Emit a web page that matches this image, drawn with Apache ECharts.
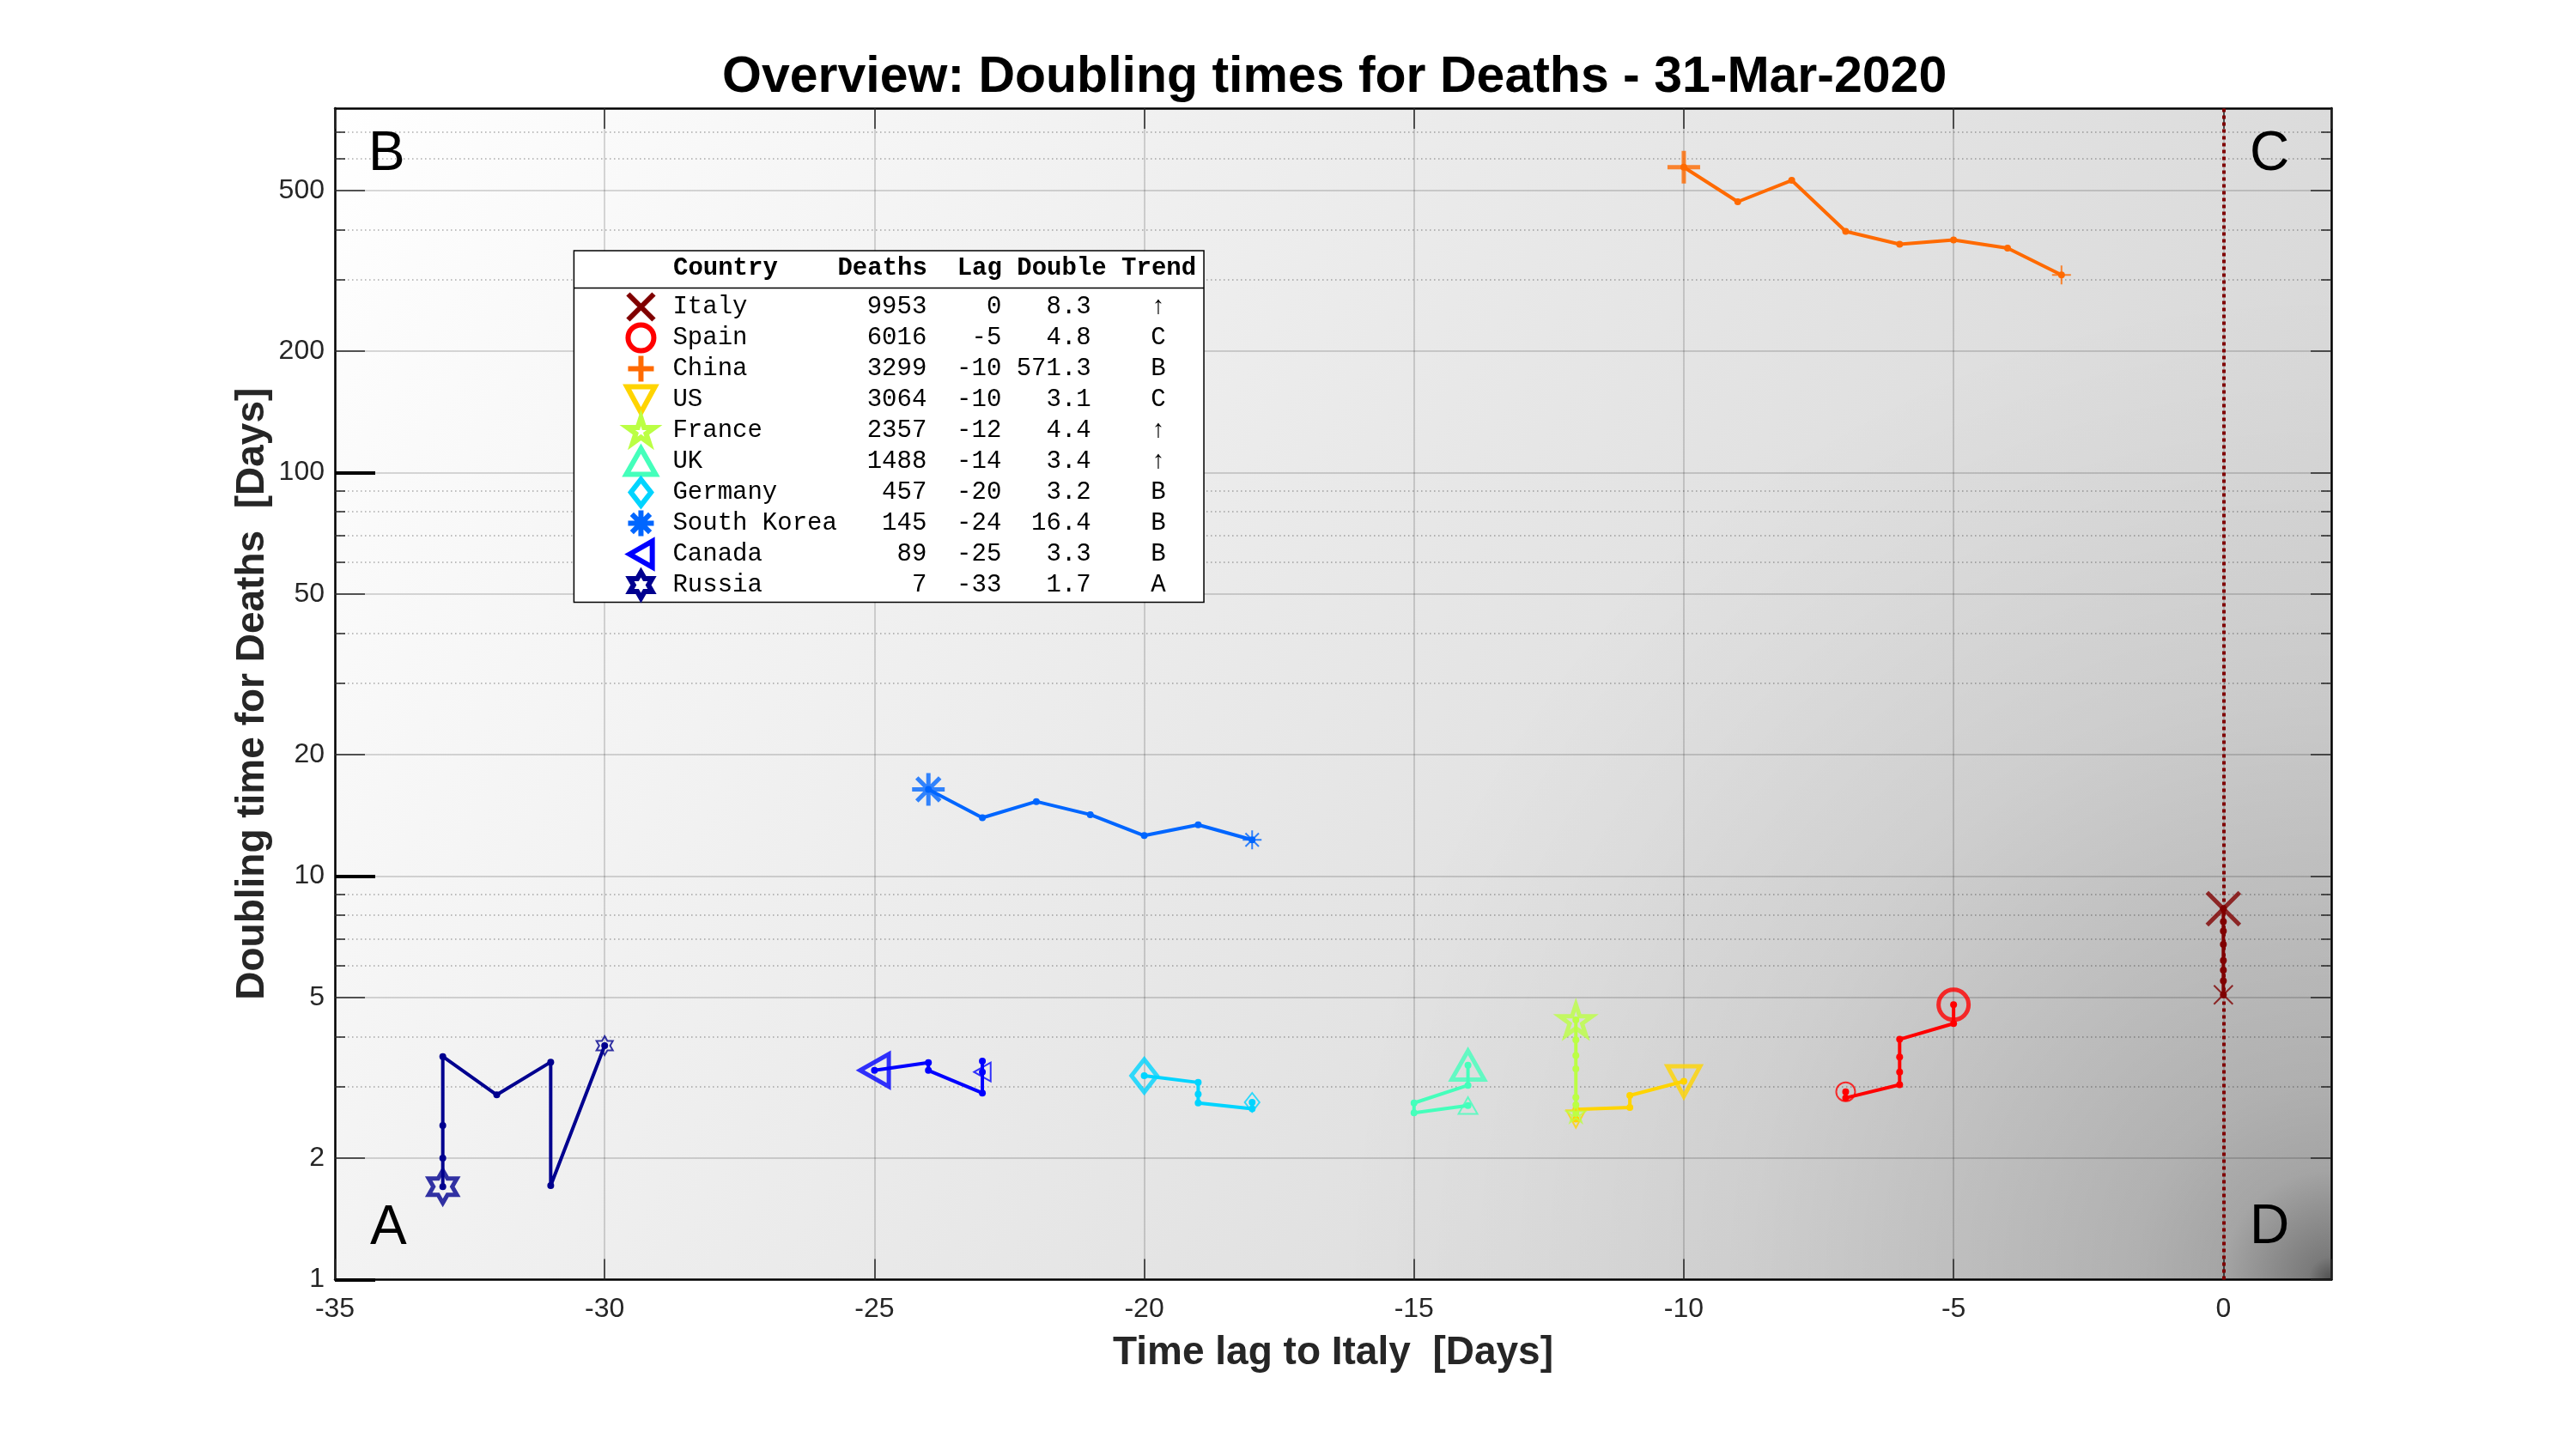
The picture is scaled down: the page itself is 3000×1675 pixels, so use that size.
<!DOCTYPE html>
<html>
<head>
<meta charset="utf-8">
<script src="https://cdn.jsdelivr.net/npm/echarts@6/dist/echarts.min.js"></script>
<style>
html,body{margin:0;padding:0;background:#ffffff;}
#chart{width:3000px;height:1675px;}
</style>
</head>
<body>
<div id="chart"></div>
<script>
// ---------------- DATA ----------------
const countries = ['Italy', 'Spain', 'China', 'US', 'France', 'UK', 'Germany', 'South Korea', 'Canada', 'Russia'];
const deaths = [9953, 6016, 3299, 3064, 2357, 1488, 457, 145, 89, 7];
const lags = [0, -5, -10, -10, -12, -14, -20, -24, -25, -33];
const doubles = [8.3, 4.8, 571.3, 3.1, 4.4, 3.4, 3.2, 16.4, 3.3, 1.7];
const trends = ['\u2191', 'C', 'B', 'C', '\u2191', '\u2191', 'B', 'B', 'B', 'A'];

// trajectories [lag, doubling time], oldest first, current last
const trajItaly = [[0, 5.08], [0, 5.5], [0, 5.85], [0, 6.18], [0, 6.77], [0, 7.31], [0, 7.71], [0, 8.3]];
const trajSpain = [[-7, 2.92], [-7, 2.82], [-6, 3.04], [-6, 3.27], [-6, 3.56], [-6, 3.94], [-5, 4.31], [-5, 4.8]];
const trajChina = [[-3, 309], [-4, 360], [-5, 377], [-6, 368], [-7, 396], [-8, 530], [-9, 469], [-10, 571.3]];
const trajUS = [[-12, 2.5], [-12, 2.64], [-11, 2.67], [-11, 2.86], [-10, 3.1]];
const trajFrance = [[-12, 2.58], [-12, 2.71], [-12, 2.83], [-12, 3.33], [-12, 3.59], [-12, 3.93], [-12, 4.4]];
const trajUK = [[-14, 2.7], [-15, 2.59], [-15, 2.74], [-14, 3.03], [-14, 3.4]];
const trajGermany = [[-18, 2.75], [-18, 2.65], [-19, 2.74], [-19, 2.88], [-19, 3.08], [-20, 3.2]];
const trajSouthKorea = [[-18, 12.3], [-19, 13.4], [-20, 12.6], [-21, 14.2], [-22, 15.3], [-23, 13.95], [-24, 16.4]];
const trajCanada = [[-23, 3.27], [-23, 3.48], [-23, 2.9], [-24, 3.3], [-24, 3.45], [-25, 3.3]];
const trajRussia = [[-30, 3.8], [-31, 1.71], [-31, 3.46], [-32, 2.87], [-33, 3.57], [-33, 2.41], [-33, 2.0], [-33, 1.7]];
const trajectories = [trajItaly, trajSpain, trajChina, trajUS, trajFrance, trajUK, trajGermany, trajSouthKorea, trajCanada, trajRussia];

// axis ticks
const xTicks = [-35, -30, -25, -20, -15, -10, -5, 0];
const yMajorTicks = [1, 2, 5, 10, 20, 50, 100, 200, 500];
const yMinorTicks = [3, 4, 6, 7, 8, 9, 30, 40, 60, 70, 80, 90, 300, 400, 600, 700];
const yDecadeTicks = [1, 10, 100];

// ---------------- STYLE ----------------
const colors = ['#800000', '#FF0000', '#FF6A00', '#FFD400', '#BBFF44', '#44FFBB', '#00D4FF', '#0066FF', '#0000FF', '#00008F'];
const markerIcons = [
  'path://M0 0L10 10M10 0L0 10',
  'circle',
  'path://M5 0L5 10M0 5L10 5',
  'path://M0 0L10 0L5 9.2Z',
  'path://M5 0L6.123 3.455L9.755 3.455L6.816 5.59L7.939 9.045L5 6.91L2.061 9.045L3.184 5.59L0.245 3.455L3.877 3.455Z',
  'path://M5 0L10 8.8L0 8.8Z',
  'path://M3.9 0L7.8 5L3.9 10L0 5Z',
  'path://M5 0L5 10M0 5L10 5M1.46 1.46L8.54 8.54M8.54 1.46L1.46 8.54',
  'path://M0 5L8.8 0L8.8 10Z',
  'path://M5 0L6.443 2.5L9.33 2.5L7.887 5L9.33 7.5L6.443 7.5L5 10L3.557 7.5L0.67 7.5L2.113 5L0.67 2.5L3.557 2.5Z'
];
const SANS = "'Liberation Sans', Arial, Helvetica, sans-serif";
const MONO = "'Liberation Mono', 'DejaVu Sans Mono', monospace";
const TXT = '#262626';

// plot area in px
const G = { left: 390, top: 126, right: 2715, bottom: 1490.5 };
const GW = G.right - G.left, GH = G.bottom - G.top;

// legend rows (monospace table)
const rowText = {};
countries.forEach((c, i) => {
  rowText[c] = c.padEnd(11) + String(deaths[i]).padStart(6) + String(lags[i]).padStart(5) +
    doubles[i].toFixed(1).padStart(6) + '    ' + trends[i] + '  ';
});

// legend box geometry (for the header separator)
const LEG = { left: 668.4, top: 292, pad: [47.5, 9.5, 2, 58], itemWidth: 64, iconInset: 12 };
const measureCtx = document.createElement('canvas').getContext('2d');
measureCtx.font = "29px 'Liberation Mono', 'DejaVu Sans Mono', monospace";
let rowWidth = 0;
countries.forEach(c => { rowWidth = Math.max(rowWidth, measureCtx.measureText(rowText[c]).width); });
const legendRight = LEG.left + LEG.pad[3] + LEG.itemWidth + 5 + rowWidth + LEG.pad[1] - LEG.iconInset;

const series = [];
countries.forEach((c, i) => {
  const traj = trajectories[i];
  const line = {
    name: c, type: 'line', data: traj, xAxisIndex: 0, yAxisIndex: 0,
    symbol: 'circle', symbolSize: 8, showSymbol: true,
    itemStyle: { color: colors[i], borderWidth: 0 },
    lineStyle: { color: colors[i], width: 4 },
    emphasis: { disabled: true }, z: 3, animation: false
  };
  if (i === 0) {
    line.markLine = {
      silent: true, symbol: ['none', 'none'], label: { show: false },
      lineStyle: { color: colors[0], width: 4, type: [4, 4], opacity: 1 },
      emphasis: { disabled: true },
      data: [{ xAxis: lags[0] }], animation: false
    };
  }
  series.push(line);
  series.push({
    name: c + ' start', type: 'scatter', data: [traj[0]],
    symbol: markerIcons[i], symbolSize: 22, symbolKeepAspect: true,
    itemStyle: { color: 'rgba(0,0,0,0)', borderColor: colors[i], borderWidth: 2 },
    emphasis: { disabled: true }, z: 4, animation: false
  });
  series.push({
    name: c + ' now', type: 'scatter', data: [traj[traj.length - 1]],
    symbol: markerIcons[i], symbolSize: i === 1 ? 35 : 38, symbolKeepAspect: true,
    itemStyle: { color: 'rgba(0,0,0,0)', borderColor: colors[i], borderWidth: 5 },
    emphasis: { disabled: true }, z: 5, animation: false
  });
});

const logBase = { type: 'log', logBase: 10, min: 1, max: 800, gridIndex: 0 };
const hidden = { show: false };
const noLine = { show: false, onZero: false };
const borderLine = { show: true, onZero: false, lineStyle: { color: '#000', width: 2.5 } };

const option = {
  animation: false,
  backgroundColor: '#ffffff',
  title: {
    text: 'Overview: Doubling times for Deaths - 31-Mar-2020',
    left: 841, top: 61, padding: 0,
    textStyle: { fontFamily: SANS, fontSize: 59, fontWeight: 'bold', color: '#000', lineHeight: 59 }
  },
  grid: { left: G.left, top: G.top, width: GW, height: GH, show: false, containLabel: false, outerBoundsMode: 'none' },
  xAxis: [
    {
      type: 'value', min: -35, max: 2, interval: 5, position: 'bottom', gridIndex: 0,
      name: 'Time lag to Italy  [Days]', nameLocation: 'middle', nameGap: 63, nameMoveOverlap: false,
      nameTextStyle: { fontFamily: SANS, fontSize: 46, fontWeight: 'bold', color: TXT, lineHeight: 46 },
      axisLine: borderLine,
      axisTick: { show: true, inside: true, length: 24, lineStyle: { color: TXT, width: 1.5 } },
      axisLabel: {
        show: true, margin: 19, fontFamily: SANS, fontSize: 32, color: TXT, lineHeight: 32,
        showMinLabel: true, showMaxLabel: true,
        formatter: v => (xTicks.indexOf(v) >= 0 ? String(v) : '')
      },
      splitLine: { show: true, lineStyle: { color: 'rgba(0,0,0,0.15)', width: 2 } }
    },
    {
      type: 'value', min: -35, max: 2, interval: 5, position: 'top', gridIndex: 0,
      axisLine: borderLine,
      axisTick: { show: true, inside: true, length: 24, lineStyle: { color: TXT, width: 1.5 } },
      axisLabel: hidden, splitLine: hidden
    }
  ],
  yAxis: [
    Object.assign({}, logBase, {
      position: 'left',
      name: 'Doubling time for Deaths  [Days]', nameLocation: 'middle', nameGap: 73, nameRotate: 90, nameMoveOverlap: false,
      nameTextStyle: { fontFamily: SANS, fontSize: 46, fontWeight: 'bold', color: TXT, lineHeight: 46 },
      axisLine: borderLine,
      axisTick: { show: true, inside: true, length: 35, customValues: yMajorTicks, lineStyle: { color: TXT, width: 1.5 } },
      axisLabel: { show: true, margin: 12, customValues: yMajorTicks, fontFamily: SANS, fontSize: 32, color: TXT },
      splitLine: { show: true, lineStyle: { color: 'rgba(0,0,0,0.15)', width: 2 } }
    }),
    Object.assign({}, logBase, {
      position: 'left',
      axisLine: noLine, axisLabel: { show: false, customValues: yMinorTicks },
      axisTick: { show: true, inside: true, length: 12, customValues: yMinorTicks, lineStyle: { color: TXT, width: 1.5 } },
      splitLine: { show: true, lineStyle: { color: 'rgba(0,0,0,0.32)', width: 1.5, type: [1.5, 3.5] } }
    }),
    Object.assign({}, logBase, {
      position: 'right',
      axisLine: borderLine,
      axisLabel: { show: false, customValues: yMajorTicks },
      axisTick: { show: true, inside: true, length: 24, customValues: yMajorTicks, lineStyle: { color: TXT, width: 1.5 } },
      splitLine: hidden
    }),
    Object.assign({}, logBase, {
      position: 'right',
      axisLine: noLine, axisLabel: { show: false, customValues: yMinorTicks },
      axisTick: { show: true, inside: true, length: 12, customValues: yMinorTicks, lineStyle: { color: TXT, width: 1.5 } },
      splitLine: hidden
    }),
    Object.assign({}, logBase, {
      position: 'left',
      axisLine: noLine, axisLabel: { show: false, customValues: yDecadeTicks },
      axisTick: { show: true, inside: true, length: 47, customValues: yDecadeTicks, lineStyle: { color: '#000', width: 4 } },
      splitLine: hidden
    })
  ],
  legend: {
    show: true, orient: 'vertical', left: LEG.left, top: LEG.top,
    padding: LEG.pad,
    itemWidth: LEG.itemWidth, itemHeight: 30, itemGap: 0,
    backgroundColor: '#ffffff', borderColor: '#000', borderWidth: 1.5, borderRadius: 0,
    selectedMode: false, symbolKeepAspect: true,
    textStyle: { fontFamily: MONO, fontSize: 29, color: '#000', lineHeight: 35 },
    formatter: name => rowText[name],
    data: countries.map((c, i) => ({
      name: c, icon: markerIcons[i],
      itemStyle: { color: 'rgba(0,0,0,0)', borderColor: colors[i], borderWidth: 6 }
    }))
  },
  graphic: [
    {
      type: 'rect', x: G.left, y: G.top, silent: true, z: -10,
      shape: { x: 0, y: 0, width: GW, height: GH },
      style: {
        fill: new echarts.graphic.LinearGradient(0, 0, 1, 1, [
          { offset: 0, color: '#ffffff' }, { offset: 1, color: '#cfcfcf' }
        ])
      }
    },
    {
      type: 'rect', x: G.left, y: G.top, silent: true, z: -9,
      shape: { x: 0, y: 0, width: GW, height: GH },
      style: {
        fill: new echarts.graphic.RadialGradient(1, 1, 0.85, [
          { offset: 0, color: 'rgba(0,0,0,0.62)' },
          { offset: 0.023, color: 'rgba(0,0,0,0.41)' },
          { offset: 0.11, color: 'rgba(0,0,0,0.21)' },
          { offset: 0.2, color: 'rgba(0,0,0,0.16)' },
          { offset: 0.41, color: 'rgba(0,0,0,0.10)' },
          { offset: 0.59, color: 'rgba(0,0,0,0.055)' },
          { offset: 0.82, color: 'rgba(0,0,0,0.018)' },
          { offset: 1, color: 'rgba(0,0,0,0)' }
        ])
      }
    },
    { type: 'text', x: 431, y: 1431.5, z: 6, silent: true, style: { text: 'A', fontFamily: SANS, fontSize: 64, fill: '#000', align: 'left', verticalAlign: 'middle' } },
    { type: 'text', x: 429, y: 180.5, z: 6, silent: true, style: { text: 'B', fontFamily: SANS, fontSize: 64, fill: '#000', align: 'left', verticalAlign: 'middle' } },
    { type: 'text', x: 2620, y: 180.5, z: 6, silent: true, style: { text: 'C', fontFamily: SANS, fontSize: 64, fill: '#000', align: 'left', verticalAlign: 'middle' } },
    { type: 'text', x: 2620, y: 1430, z: 6, silent: true, style: { text: 'D', fontFamily: SANS, fontSize: 64, fill: '#000', align: 'left', verticalAlign: 'middle' } },
    { type: 'text', x: 784, y: 313, z: 20, silent: true, style: { text: 'Country    Deaths  Lag Double Trend', fontFamily: MONO, fontSize: 29, fontWeight: 'bold', fill: '#000', align: 'left', verticalAlign: 'middle' } },
    { type: 'line', z: 20, silent: true, shape: { x1: LEG.left, y1: 335.5, x2: legendRight, y2: 335.5 }, style: { stroke: '#000', lineWidth: 1.5 } }
  ],
  series: series
};

const chart = echarts.init(document.getElementById('chart'), null, { renderer: 'canvas' });
chart.setOption(option);
</script>
</body>
</html>
